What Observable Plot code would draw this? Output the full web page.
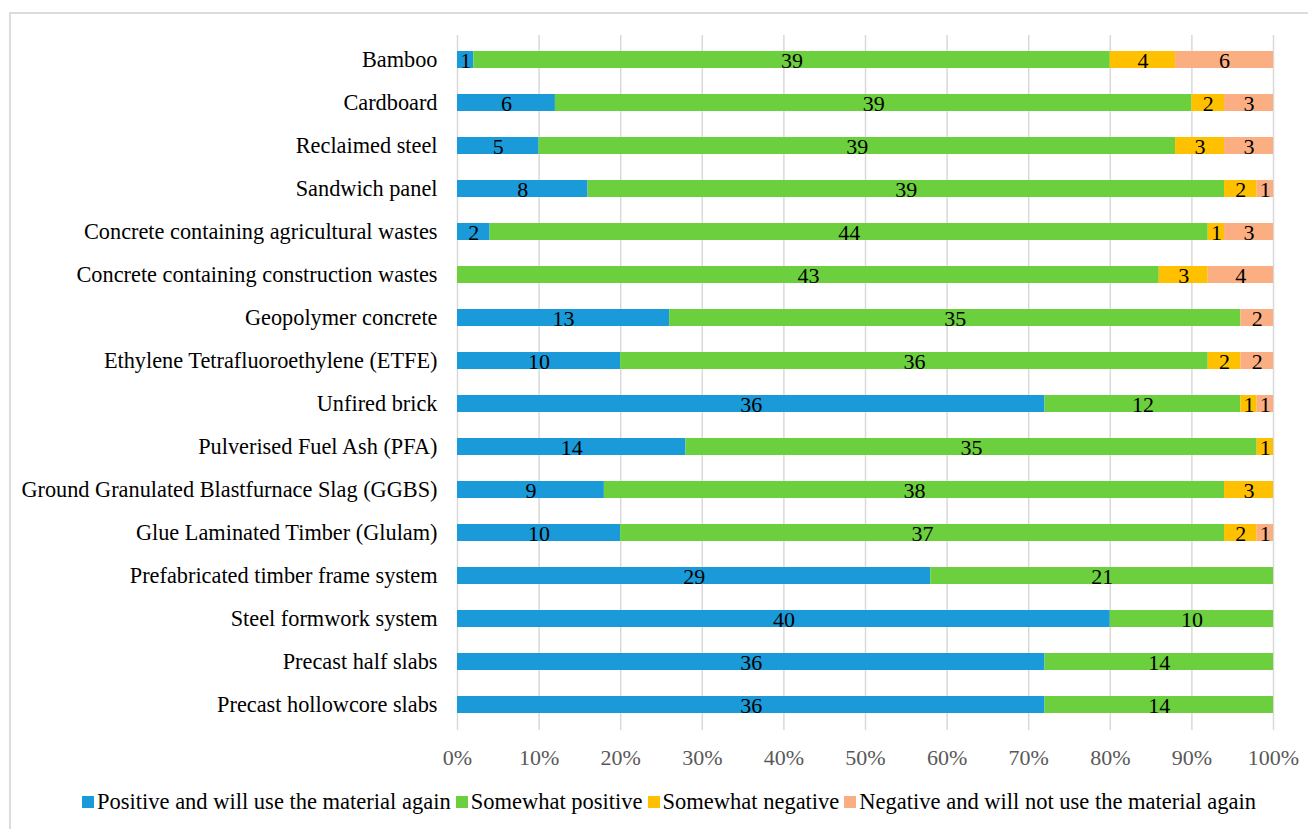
<!DOCTYPE html>
<html>
<head>
<meta charset="utf-8">
<script src="https://cdn.jsdelivr.net/npm/d3@7"></script>
<script src="https://cdn.jsdelivr.net/npm/@observablehq/plot@0.6"></script>
<style>
  html, body { margin: 0; padding: 0; background: #fff; }
  body { width: 1308px; height: 829px; overflow: hidden; position: relative; font-family: "Liberation Serif", "Times New Roman", serif; }
  #frame { position: absolute; left: 9px; top: 12px; width: 1320px; height: 840px; border: 2px solid #dcdcdc; box-sizing: border-box; }
  #chart { position: absolute; left: 0; top: 0; }
  #legend { position: absolute; top: 789px; left: 82px; display: flex; align-items: center; font-size: 22.5px; color: #000; white-space: nowrap; }
  .item { display: flex; align-items: center; margin-right: 5px; }
  .sw { width: 12px; height: 12px; margin-right: 3px; }
</style>
</head>
<body>
<div id="frame"></div>
<div id="chart"></div>
<div id="legend"></div>
<script>
const categories = [
  "Bamboo",
  "Cardboard",
  "Reclaimed steel",
  "Sandwich panel",
  "Concrete containing agricultural wastes",
  "Concrete containing construction wastes",
  "Geopolymer concrete",
  "Ethylene Tetrafluoroethylene (ETFE)",
  "Unfired brick",
  "Pulverised Fuel Ash (PFA)",
  "Ground Granulated Blastfurnace Slag (GGBS)",
  "Glue Laminated Timber (Glulam)",
  "Prefabricated timber frame system",
  "Steel formwork system",
  "Precast half slabs",
  "Precast hollowcore slabs"
];
const seriesNames = [
  "Positive and will use the material again",
  "Somewhat positive",
  "Somewhat negative",
  "Negative and will not use the material again"
];
const positiveUse      = [1, 6, 5, 8, 2, 0, 13, 10, 36, 14, 9, 10, 29, 40, 36, 36];
const somewhatPositive = [39, 39, 39, 39, 44, 43, 35, 36, 12, 35, 38, 37, 21, 10, 14, 14];
const somewhatNegative = [4, 2, 3, 2, 1, 3, 0, 2, 1, 1, 3, 2, 0, 0, 0, 0];
const negativeNoUse    = [6, 3, 3, 1, 3, 4, 2, 2, 1, 0, 0, 1, 0, 0, 0, 0];
const colors = ["#1a9ad8", "#6ccf3e", "#ffc000", "#fbae82"];
const xTicks = [0, 0.1, 0.2, 0.3, 0.4, 0.5, 0.6, 0.7, 0.8, 0.9, 1];

const seriesValues = [positiveUse, somewhatPositive, somewhatNegative, negativeNoUse];
const data = [];
categories.forEach((c, i) => {
  seriesNames.forEach((s, j) => {
    data.push({category: c, series: s, value: seriesValues[j][i]});
  });
});

const stackOpts = {x: "value", y: "category", z: "series", order: seriesNames, offset: "normalize"};

const chart = Plot.plot({
  width: 1308,
  height: 780,
  marginTop: 35,
  marginBottom: 50,
  marginLeft: 457,
  marginRight: 35,
  style: {fontFamily: "Liberation Serif, Times New Roman, serif", fontSize: "22px", background: "transparent"},
  x: {domain: [0, 1], ticks: xTicks, tickFormat: d3.format(".0%"), label: null},
  y: {domain: categories, paddingInner: 0.6, paddingOuter: 0.3, align: 0.5, label: null},
  color: {domain: seriesNames, range: colors},
  marks: [
    Plot.gridX(xTicks, {stroke: "#d9d9d9", strokeOpacity: 1, strokeWidth: 1.5}),
    Plot.barX(data, Plot.stackX({...stackOpts, fill: "series"})),
    Plot.text(data, Plot.stackX({...stackOpts, filter: d => d.value > 0, text: d => String(d.value), fill: "#000", fontSize: 22, dy: 1})),
    Plot.axisX({ticks: xTicks, tickFormat: d3.format(".0%"), tickSize: 0, tickPadding: 19, fill: "#595959", fontSize: 22}),
    Plot.axisY({tickSize: 0, tickPadding: 20, fill: "#000", fontSize: 22.3})
  ]
});
document.getElementById("chart").appendChild(chart);

const legend = document.getElementById("legend");
seriesNames.forEach((s, j) => {
  const item = document.createElement("div");
  item.className = "item";
  const sw = document.createElement("div");
  sw.className = "sw";
  sw.style.background = colors[j];
  const t = document.createElement("span");
  t.textContent = s;
  item.appendChild(sw);
  item.appendChild(t);
  legend.appendChild(item);
});
</script>
</body>
</html>
